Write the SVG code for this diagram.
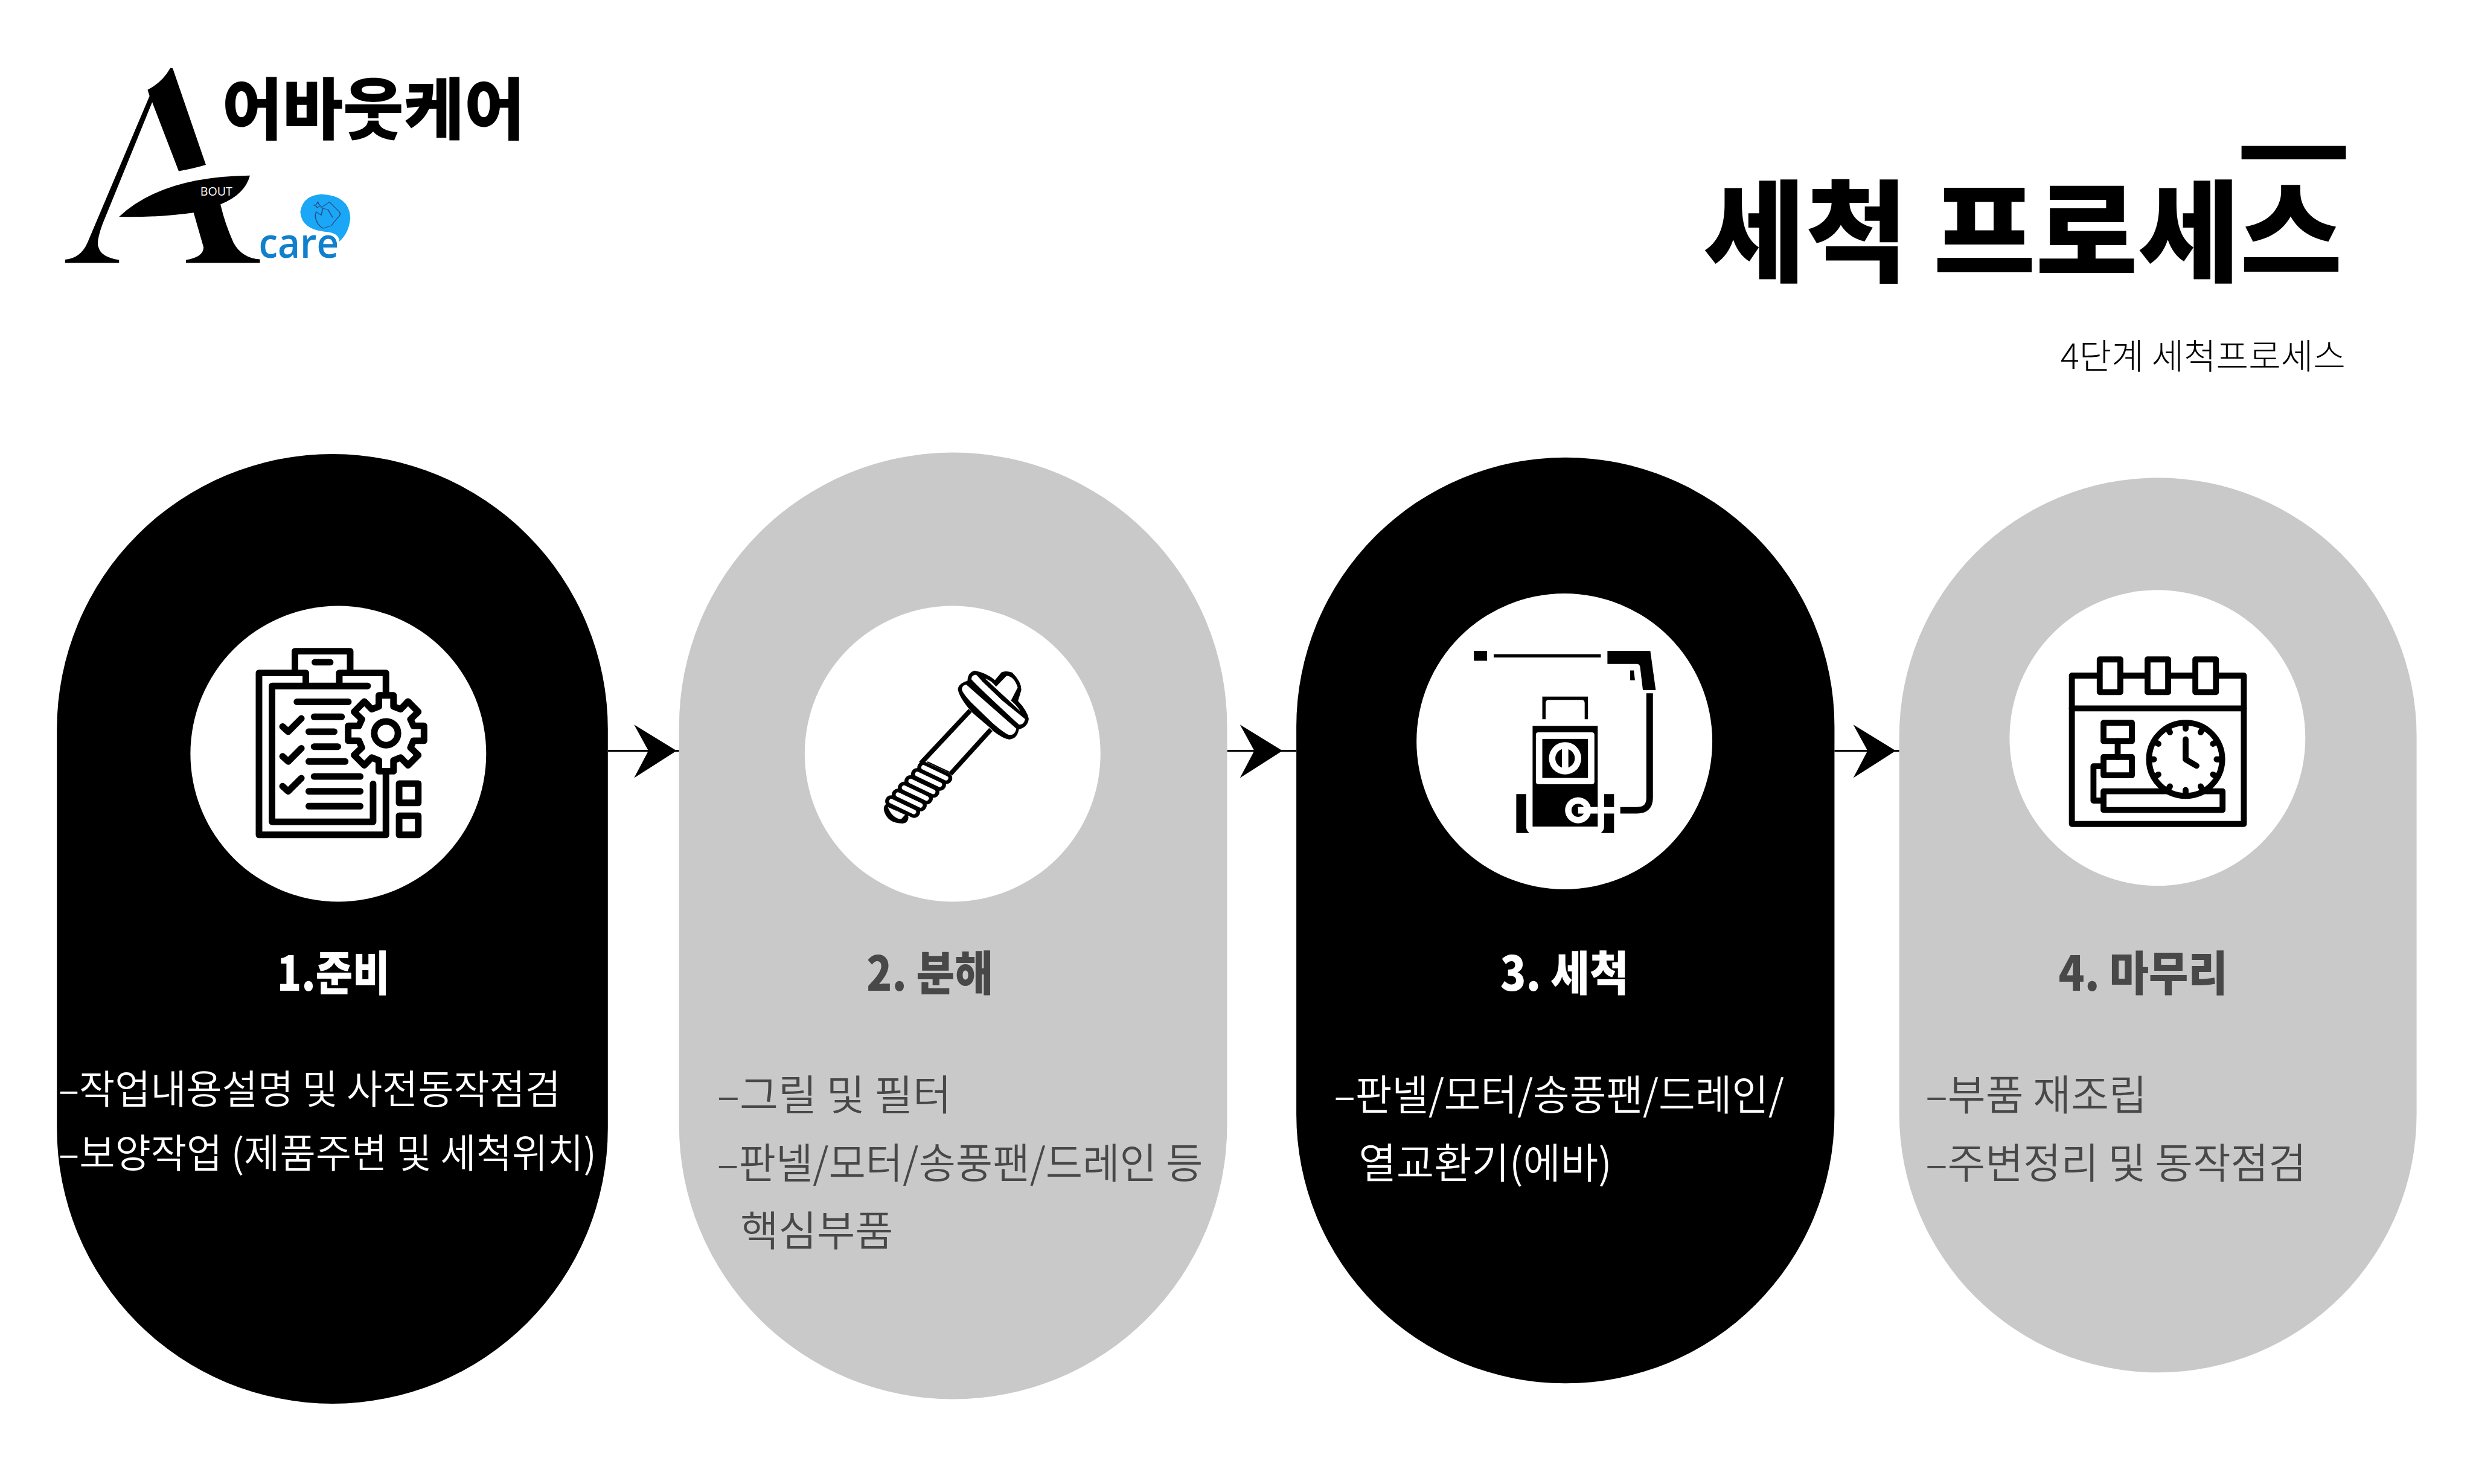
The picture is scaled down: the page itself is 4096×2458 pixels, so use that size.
<svg xmlns="http://www.w3.org/2000/svg" width="4096" height="2458" viewBox="0 0 4096 2458">
<style>
text{font-family:"Noto Sans CJK KR","Noto Sans",sans-serif}
.body{font-size:84px;font-weight:350}
.b1{font-size:80px;font-weight:350}
.wt{fill:#fff}.gt{fill:#484848}
.head{font-size:96px;font-weight:900}
.blk{fill:#000}.gry{fill:#c9c9c9}.w{fill:#fff}
.s40{fill:none;stroke:#000;stroke-width:40;stroke-linejoin:round;stroke-linecap:round}
.s36{fill:none;stroke:#000;stroke-width:36;stroke-linejoin:round;stroke-linecap:round}
.conn{stroke:#000;stroke-width:4;fill:none}
</style>
<defs>
<path id="head" d="M-86,-53L0,0L-86,55L-57,0Z" fill="#000"/>
</defs>
<rect width="4096" height="2458" fill="#fff"/>
<g transform="scale(0.8192)">
<g id="logo">
<g transform="translate(80,100) scale(0.6698,0.3333)">
<path class="blk" d="M395,112L402,115L502,700Q460,725 420,738L340,320L190,1060Q170,1170 178,1200Q185,1260 240,1277L240,1295L77,1295L77,1275Q125,1265 145,1170L332,282L326,245Q370,200 395,112Z"/>
<path class="blk" d="M635,765Q370,770 240,1015Q360,1020 465,990L495,1200Q495,1260 442,1277L442,1295L665,1295L665,1273Q610,1265 585,1170Q560,1060 546,940Q620,880 635,765Z"/>
<path fill="#1aa7f5" d="M850,878Q935,885 938,1020Q935,1110 905,1165Q905,1110 860,1105Q790,1090 787,985Q795,885 850,878Z"/>
<path fill="none" stroke="#2c4a86" stroke-width="3" d="M850,960L875,925L905,985Q912,1000 900,1020L880,1070L855,1085Q835,1060 832,1010L835,985L850,1005L855,965L870,970L885,1020M840,925L845,945L850,950L842,955L838,960L835,950L828,945L836,940Z"/>
</g>
<text x="405" y="395" font-size="24" fill="#fff" style="font-family:'Open Sans',sans-serif">BOUT</text>
<text x="523" y="521" font-size="84" font-weight="600" fill="#1080cc" textLength="162" lengthAdjust="spacingAndGlyphs" style="font-family:'Open Sans',sans-serif">care</text>
<text x="449" y="271" font-size="136" font-weight="900" fill="#000" textLength="612" lengthAdjust="spacingAndGlyphs">어바웃케어</text>
</g>
<g id="title">
<rect class="blk" x="4532" y="295" width="211" height="27"/>
<text x="3444" y="552" font-size="224" font-weight="900" fill="#000" textLength="1292" lengthAdjust="spacingAndGlyphs">세척 프로세스</text>
<text x="4742" y="746" font-size="71" font-weight="300" fill="#000" text-anchor="end">4단계 세척프로세스</text>
</g>
<g id="connectors">
<path class="conn" d="M1229,1518H1373M2481,1518H2621M3709,1518H3840"/>
<use href="#head" x="1368" y="1518"/>
<use href="#head" x="2593" y="1518"/>
<use href="#head" x="3833" y="1518"/>
</g>
<g id="step1">
<rect class="blk" x="115" y="918" width="1114" height="1920" rx="557"/>
<circle class="w" cx="684" cy="1524" r="299"/>
<g transform="translate(480,1270) scale(0.3333)">
<path class="s40" d="M415,332V272H131V1254H901V885M901,390V272H618V332M349,272V140H684V272M470,207H563M790,351H210V1175H823V945M361,447H673M465,538H632M433,628H587M465,719H609M433,809H654M465,900H745M433,990H745M433,1080H745M274,597L308,628L388,548M274,778L308,809L388,729M274,959L308,990L388,910"/>
<path class="s40" d="M858,408H947V475L990,492L1035,445L1097,508L1050,553L1068,593H1132V683H1068L1050,725L1097,770L1035,832L990,785L947,803V868H858V803L815,785L770,832L708,770L755,725L737,683H672V593H737L755,553L708,508L770,445L815,492L858,475Z"/>
<circle class="s40" cx="902" cy="638" r="72"/>
<rect class="s40" x="981" y="943" width="116" height="117"/>
<rect class="s40" x="981" y="1138" width="116" height="116"/>
</g>
<text class="head wt" x="560" y="2003" textLength="228" lengthAdjust="spacingAndGlyphs">1.준비</text>
<text class="b1 wt" x="118" y="2232" textLength="1016" lengthAdjust="spacingAndGlyphs">–작업내용설명 및 사전동작점검</text>
<text class="b1 wt" x="118" y="2361" textLength="1088" lengthAdjust="spacingAndGlyphs">–보양작업 (제품주변 및 세척위치)</text>
</g>
<g id="step2">
<rect class="gry" x="1373" y="915" width="1108" height="1914" rx="554"/>
<circle class="w" cx="1926" cy="1524" r="299"/>
<g transform="translate(1740,1310) scale(0.3333)">
<path class="blk" d="M690,138Q650,150 648,200Q595,215 590,250Q595,290 650,360L680,395L780,480L805,505Q870,555 905,555Q950,550 960,495Q1015,480 1020,430Q1010,380 955,322L975,255Q975,205 920,150Q880,135 855,148L815,195Q760,150 690,138Z"/>
<path class="w" d="M640,222L945,490Q935,530 905,528Q880,525 800,455L670,330Q620,275 615,255Q612,230 640,222Z"/>
<path class="w" d="M700,162Q672,165 672,190Q700,225 960,465Q990,470 998,432L860,320L740,205Q710,170 700,162Z"/>
<path class="w" d="M755,185Q790,195 822,235L885,170Q930,170 953,240L912,320Q945,345 970,385Z"/>
<path d="M665,380L365,700M790,495L545,765" stroke="#000" stroke-width="28" fill="none"/>
<path d="M405,692L540,755" stroke="#000" stroke-width="8"/>
<g stroke-linecap="round" stroke="#000" stroke-width="72" fill="none">
<path d="M380,725L520,790M342,765L482,830M302,808L442,873M262,848L402,913M225,890L365,955M185,930L325,995"/>
<path d="M175,975Q185,1030 255,1030" stroke-width="70"/>
</g>
<g stroke-linecap="round" stroke="#fff" stroke-width="28" fill="none">
<path d="M382,725L518,790M344,765L480,830M304,808L440,873M264,848L400,913M227,890L363,955M187,930L323,995"/>
</g>
<path class="w" d="M165,965L270,1012L245,1040Q190,1030 165,965Z"/>
</g>
<text class="head gt" x="1752" y="2003" textLength="256" lengthAdjust="spacingAndGlyphs">2. 분해</text>
<text class="body gt" x="1450" y="2245" textLength="474" lengthAdjust="spacingAndGlyphs">–그릴 및 필터</text>
<text class="body gt" x="1450" y="2383" textLength="982" lengthAdjust="spacingAndGlyphs">–판넬/모터/송풍팬/드레인 등</text>
<text class="body gt" x="1497" y="2520">핵심부품</text>
</g>
<g id="step3">
<rect class="blk" x="2621" y="925" width="1088" height="1872" rx="544"/>
<circle class="w" cx="3163" cy="1499" r="299"/>
<g transform="translate(2940,1270) scale(0.3333)">
<rect class="blk" x="120" y="138" width="80" height="60"/>
<rect class="blk" x="240" y="158" width="650" height="20"/>
<path class="blk" d="M930,138H1190L1223,376H1145L1128,235Q1125,217 1108,217H930Z"/>
<path class="blk" d="M1068,257H1090L1097,316H1068Z"/>
<path d="M1186,395V1030Q1186,1105 1110,1105H1008" fill="none" stroke="#000" stroke-width="40"/>
<path class="blk" d="M535,553V415H812V553H792V455Q792,435 772,435H575Q555,435 555,455V553Z"/>
<rect class="blk" x="476" y="593" width="395" height="611"/>
<rect class="w" x="496" y="632" width="355" height="315" rx="15"/>
<rect class="blk" x="535" y="672" width="277" height="237"/>
<circle class="w" cx="673" cy="790" r="98"/>
<circle class="blk" cx="673" cy="790" r="59"/>
<rect class="w" x="654" y="725" width="39" height="130"/>
<circle class="w" cx="752" cy="1105" r="79"/>
<circle class="blk" cx="752" cy="1105" r="40"/>
<rect class="w" x="752" y="1085" width="119" height="40"/>
<path class="blk" d="M910,1007H970V1085H910ZM910,1125H970V1243H890Q910,1225 910,1205Z"/>
<path class="blk" d="M377,1007H437V1205Q437,1225 456,1243H377Z"/>
</g>
<text class="head wt" x="3033" y="2003" textLength="260" lengthAdjust="spacingAndGlyphs">3. 세척</text>
<text class="body wt" x="2697" y="2245" textLength="910" lengthAdjust="spacingAndGlyphs">–판넬/모터/송풍팬/드레인/</text>
<text class="body wt" x="2747" y="2383" textLength="512" lengthAdjust="spacingAndGlyphs">열교환기(에바)</text>
</g>
<g id="step4">
<rect class="gry" x="3840" y="966" width="1046" height="1809" rx="523"/>
<circle class="w" cx="4362" cy="1492" r="299"/>
<g transform="translate(4150,1290) scale(0.3333)">
<rect class="s36" x="117" y="228" width="1043" height="900"/>
<path class="s36" d="M117,427H1160"/>
<rect class="s36" x="286" y="130" width="125" height="198" style="fill:#fff"/>
<rect class="s36" x="576" y="130" width="125" height="198" style="fill:#fff"/>
<rect class="s36" x="866" y="130" width="125" height="198" style="fill:#fff"/>
<rect class="s36" x="309" y="514" width="172" height="111"/>
<rect class="s36" x="309" y="722" width="172" height="111"/>
<path class="s36" d="M395,625V722M309,778H248V986H309"/>
<rect class="s36" x="309" y="930" width="722" height="113"/>
<circle class="s36" cx="807" cy="736" r="222" style="fill:#fff"/>
<path class="s36" d="M807,615V736L873,775M807,532V550M807,922V940M603,736H615M995,736H1011M705,560L712,572M905,560L898,572M705,912L712,900M905,912L898,900M630,635L642,642M985,635L973,642M630,835L642,828M985,835L973,828"/>
</g>
<text class="head gt" x="4162" y="2003" textLength="342" lengthAdjust="spacingAndGlyphs">4. 마무리</text>
<text class="body gt" x="3893" y="2245" textLength="448" lengthAdjust="spacingAndGlyphs">–부품 재조립</text>
<text class="body gt" x="3893" y="2383" textLength="770" lengthAdjust="spacingAndGlyphs">–주변정리 및 동작점검</text>
</g>
</g>
</svg>
